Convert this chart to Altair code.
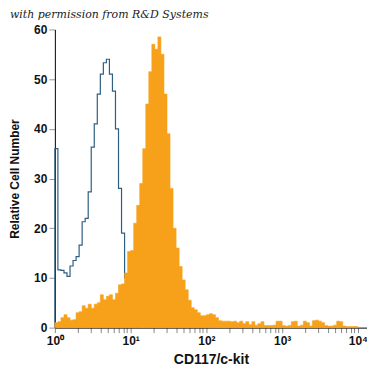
import altair as alt
import pandas as pd

# histogram channel grid: bins 0.04 decades wide, starting at 10^0
BIN_WIDTH_DECADES = 0.04

# CD117/c-kit stained cells (filled orange), read per bin
stained = [1.0, 1.2, 2.0, 2.6, 2.0, 1.5, 1.6, 3.0, 3.2, 4.4,
           3.9, 4.7, 3.9, 4.7, 5.0, 6.6, 5.6, 6.3, 6.6, 5.6,
           6.9, 8.6, 8.8, 11.0, 15.3, 15.5, 21.0, 24.6, 29.0, 36.0,
           45.0, 51.5, 57.0, 56.0, 58.5, 55.0, 47.0, 39.0, 28.0, 20.0,
           16.0, 12.3, 9.6, 7.6, 5.5, 4.0, 3.6, 3.0, 2.4, 2.4,
           2.6, 2.8, 2.6, 2.0, 1.4, 1.3, 1.3, 1.3, 1.2, 1.3,
           1.0, 1.3, 0.8, 1.2, 0.6, 1.2, 0.5, 0.8, 1.2, 0.4,
           0.4, 0.4, 0.5, 1.3, 1.3, 0.4, 0.3, 0.4, 1.2, 1.3,
           0.3, 0.5, 1.3, 1.0, 0.3, 1.4, 1.5, 1.3, 1.0, 0.4,
           0.3, 0.3, 0.5, 1.3, 1.2, 0.3, 0.2, 0.2, 0.2, 0.2,
           0.0]

# isotype control (blue outline), read per bin
control = [36.0, 11.6, 11.5, 11.0, 10.3, 12.4, 13.5, 14.3, 16.6, 21.3,
           22.0, 27.3, 36.3, 41.0, 47.0, 51.0, 53.3, 54.0, 51.0, 47.6,
           40.0, 28.0, 19.0, 10.0, 6.0, 3.0, 1.0, 0.0]

x_labels = {1: "10⁰", 10: "10¹", 100: "10²", 1000: "10³", 10000: "10⁴"}
y_ticks = [0, 10, 20, 30, 40, 50, 60]
note = "with permission from R&D Systems"

def channel(i):
    return 10 ** (BIN_WIDTH_DECADES * i)

df_s = pd.DataFrame({"x": [channel(i) for i in range(len(stained))],
                     "y": stained})
ctrl_x = [1.0] + [channel(i) for i in range(len(control))]
ctrl_y = [0.0] + control
df_c = pd.DataFrame({"x": ctrl_x, "y": ctrl_y, "o": list(range(len(ctrl_x)))})

x_ticks = [m * 10 ** d for d in range(4) for m in range(1, 10)] + [10000]
label_expr = " : ".join(
    f"datum.value == {k} ? '{v}'" for k, v in x_labels.items()) + " : ''"

x_scale = alt.Scale(type="log", domain=[1, 10 ** 4.12], nice=False)
y_scale = alt.Scale(domain=[0, 60], nice=False)

x_axis = alt.Axis(values=x_ticks, labelExpr=label_expr, title="CD117/c-kit",
                  tickSize=5, tickColor="#888", domainColor="#000",
                  labelFont="Liberation Sans", labelFontWeight="bold",
                  labelFontSize=12, labelPadding=3, labelOverlap=False,
                  labelFlush=False, titleFont="Liberation Sans",
                  titleFontWeight="bold", titleFontSize=14, titlePadding=6,
                  grid=False, labelColor="#111", titleColor="#111")
y_axis = alt.Axis(values=y_ticks, title="Relative Cell Number",
                  tickSize=6, tickColor="#999", domainColor="#000",
                  labelFont="Liberation Sans", labelFontWeight="bold",
                  labelFontSize=12, labelPadding=2, titleFont="Liberation Sans",
                  titleFontWeight="bold", titleFontSize=12, titlePadding=12,
                  grid=False, labelColor="#111", titleColor="#111")

ctrl_line = alt.Chart(df_c).mark_line(
    interpolate="step-after", color="#2f5f80", strokeWidth=1.2).encode(
    x=alt.X("x:Q", scale=x_scale, axis=x_axis),
    y=alt.Y("y:Q", scale=y_scale, axis=y_axis),
    order="o:Q")

stained_area = alt.Chart(df_s).mark_area(
    interpolate="step-after", color="#F7A11A", opacity=1,
    stroke="#F7A11A", strokeWidth=0.6).encode(
    x=alt.X("x:Q", scale=x_scale),
    y=alt.Y("y:Q", scale=y_scale, stack=None))

note_text = alt.Chart(pd.DataFrame({"t": [note]})).mark_text(
    align="left", baseline="alphabetic", font="DejaVu Serif",
    fontStyle="italic", fontSize=11, color="#222").encode(
    x=alt.value(-45), y=alt.value(-11), text="t:N")

chart = alt.layer(ctrl_line, stained_area, note_text).properties(
    width=313, height=299,
    autosize=alt.AutoSizeParams(type="none"),
    padding={"left": 47, "top": 21, "right": 0, "bottom": 40},
).configure_view(strokeWidth=0)

chart.save("out.html", embed_options={"renderer": "svg", "actions": False})
